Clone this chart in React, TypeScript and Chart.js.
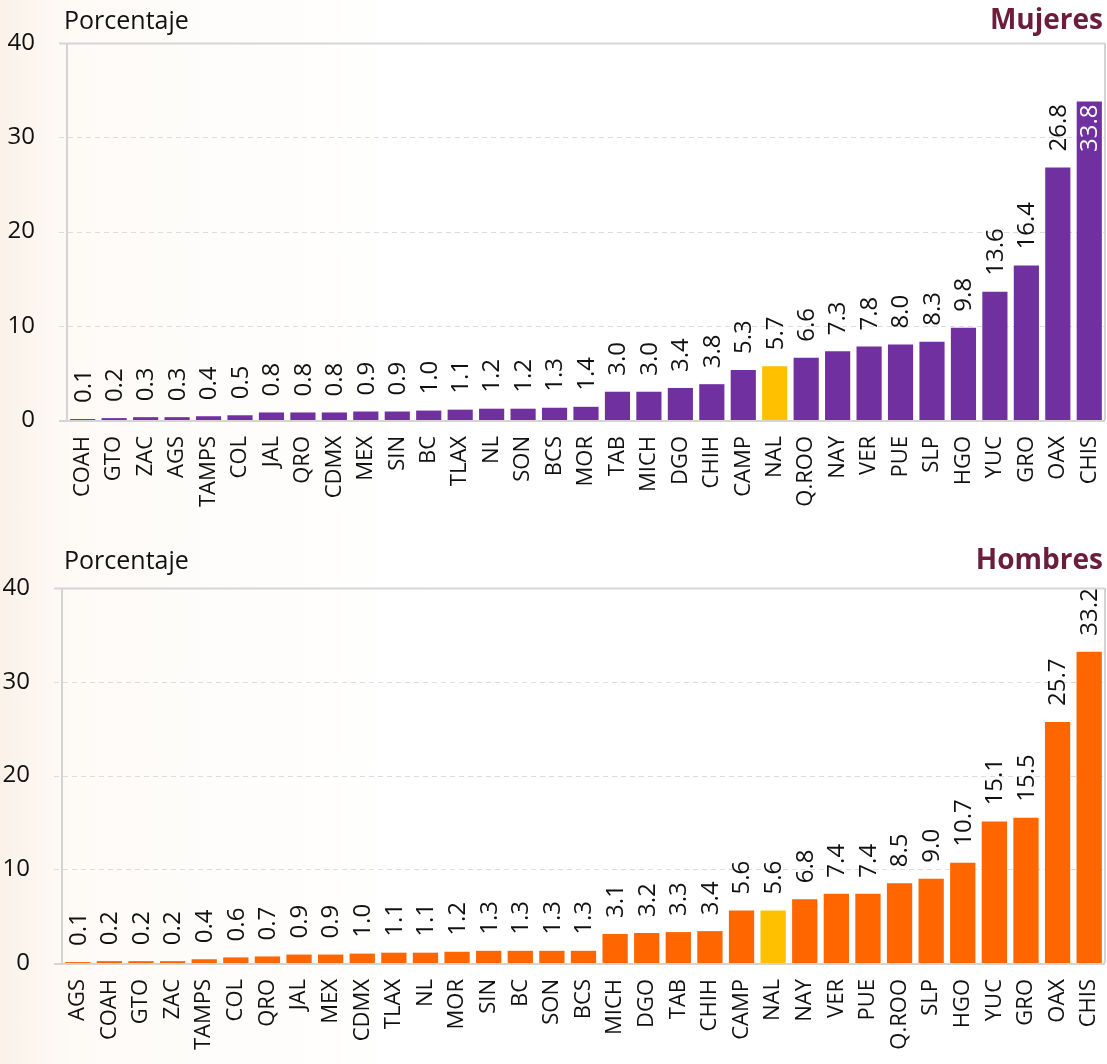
import React, { useEffect, useRef } from "react";
import { Chart, registerables } from "chart.js";

Chart.register(...registerables);

const mujeresStates = ["COAH","GTO","ZAC","AGS","TAMPS","COL","JAL","QRO","CDMX","MEX","SIN","BC","TLAX","NL","SON","BCS","MOR","TAB","MICH","DGO","CHIH","CAMP","NAL","Q.ROO","NAY","VER","PUE","SLP","HGO","YUC","GRO","OAX","CHIS"];
const mujeresValues = [0.1,0.2,0.3,0.3,0.4,0.5,0.8,0.8,0.8,0.9,0.9,1.0,1.1,1.2,1.2,1.3,1.4,3.0,3.0,3.4,3.8,5.3,5.7,6.6,7.3,7.8,8.0,8.3,9.8,13.6,16.4,26.8,33.8];

const hombresStates = ["AGS","COAH","GTO","ZAC","TAMPS","COL","QRO","JAL","MEX","CDMX","TLAX","NL","MOR","SIN","BC","SON","BCS","MICH","DGO","TAB","CHIH","CAMP","NAL","NAY","VER","PUE","Q.ROO","SLP","HGO","YUC","GRO","OAX","CHIS"];
const hombresValues = [0.1,0.2,0.2,0.2,0.4,0.6,0.7,0.9,0.9,1.0,1.1,1.1,1.2,1.3,1.3,1.3,1.3,3.1,3.2,3.3,3.4,5.6,5.6,6.8,7.4,7.4,8.5,9.0,10.7,15.1,15.5,25.7,33.2];

const yTicks = [0, 10, 20, 30, 40];
const axisTitle = "Porcentaje";
const FONT = "'Open Sans', 'Noto Sans', sans-serif";

type PanelProps = {
  labels: string[];
  values: number[];
  color: string;
  title: string;
  height: number;
  padTop: number;
  yWidth: number;
  xHeight: number;
  titleY: number;
};

const gridPlugin = {
  id: "customGrid",
  beforeDatasetsDraw(chart: any) {
    const { ctx, chartArea, scales } = chart;
    const y = scales.y;
    ctx.save();
    yTicks.forEach((t) => {
      const py = Math.round(y.getPixelForValue(t)) + 0.5;
      ctx.beginPath();
      ctx.strokeStyle = t === 40 ? "#d6d6d6" : "#dcdcdc";
      ctx.lineWidth = t === 40 ? 2 : 1.2;
      if (t === 0 || t === 40) ctx.setLineDash([]);
      else ctx.setLineDash([5, 4]);
      ctx.moveTo(chartArea.left - 8, py);
      ctx.lineTo(chartArea.right, py);
      ctx.stroke();
    });
    ctx.setLineDash([]);
    ctx.lineWidth = 2;
    ctx.strokeStyle = "#d4d4d4";
    ctx.beginPath();
    ctx.moveTo(chartArea.left, chartArea.top);
    ctx.lineTo(chartArea.left, chartArea.bottom);
    ctx.moveTo(chartArea.right, chartArea.top);
    ctx.lineTo(chartArea.right, chartArea.bottom);
    ctx.moveTo(chartArea.left - 8, chartArea.bottom + 1);
    ctx.lineTo(chartArea.right, chartArea.bottom + 1);
    ctx.stroke();
    ctx.restore();
  },
};

const labelPlugin = {
  id: "valueLabels",
  afterDatasetsDraw(chart: any) {
    const { ctx, chartArea } = chart;
    const meta = chart.getDatasetMeta(0);
    const data = chart.data.datasets[0].data as number[];
    ctx.save();
    ctx.font = `24px ${FONT}`;
    ctx.textBaseline = "middle";
    meta.data.forEach((bar: any, i: number) => {
      const txt = data[i].toFixed(1);
      const w = ctx.measureText(txt).width;
      const gap = 16;
      ctx.save();
      if (bar.y - gap - w < chartArea.top) {
        ctx.translate(bar.x, bar.y + 3);
        ctx.rotate(-Math.PI / 2);
        ctx.textAlign = "right";
        ctx.fillStyle = "#ffffff";
      } else {
        ctx.translate(bar.x, bar.y - gap);
        ctx.rotate(-Math.PI / 2);
        ctx.textAlign = "left";
        ctx.fillStyle = "#111111";
      }
      ctx.fillText(txt, 0, 1);
      ctx.restore();
    });
    ctx.restore();
  },
};

const titlePlugin = {
  id: "panelTitles",
  afterDraw(chart: any) {
    const { ctx } = chart;
    const opts = chart.options.plugins.panelTitles;
    ctx.save();
    ctx.textBaseline = "alphabetic";
    ctx.font = `25px ${FONT}`;
    ctx.fillStyle = "#111111";
    ctx.textAlign = "left";
    ctx.fillText(axisTitle, 64, opts.titleY);
    ctx.font = `bold 28px ${FONT}`;
    ctx.fillStyle = "#6b1d3a";
    ctx.textAlign = "right";
    ctx.fillText(opts.title, 1103, opts.titleY);
    ctx.restore();
  },
};

function Panel(props: PanelProps) {
  const ref = useRef<HTMLCanvasElement | null>(null);
  useEffect(() => {
    if (!ref.current) return;
    const colors = props.labels.map((l) => (l === "NAL" ? "#ffc000" : props.color));
    const chart = new Chart(ref.current, {
      type: "bar",
      data: {
        labels: props.labels,
        datasets: [
          {
            data: props.values,
            backgroundColor: colors,
            borderWidth: 0,
            barPercentage: 0.8,
            categoryPercentage: 1,
          },
        ],
      },
      options: {
        animation: false,
        responsive: false,
        maintainAspectRatio: false,
        layout: { padding: { top: props.padTop, right: 2, left: 0, bottom: 0 } },
        plugins: {
          legend: { display: false },
          tooltip: { enabled: false },
          title: { display: false },
          panelTitles: { title: props.title, titleY: props.titleY },
        } as any,
        scales: {
          x: {
            grid: { display: false },
            border: { display: false },
            ticks: {
              minRotation: 90,
              maxRotation: 90,
              autoSkip: false,
              padding: 8,
              color: "#111111",
              font: { family: FONT, size: 22 },
            },
            afterFit(scale: any) {
              scale.height = props.xHeight;
              scale.paddingLeft = 0;
              scale.paddingRight = 0;
            },
          },
          y: {
            min: 0,
            max: 40,
            grid: { display: false },
            border: { display: false },
            ticks: {
              stepSize: 10,
              padding: 24,
              color: "#111111",
              font: { family: FONT, size: 24 },
            },
            afterFit(scale: any) {
              scale.width = props.yWidth;
              scale.paddingTop = 0;
              scale.paddingBottom = 0;
            },
          },
        },
      },
      plugins: [gridPlugin, labelPlugin, titlePlugin],
    });
    return () => chart.destroy();
  }, []);
  return (
    <canvas
      ref={ref}
      width={1107}
      height={props.height}
      style={{ display: "block", width: 1107, height: props.height }}
    />
  );
}

export default function App() {
  return (
    <div
      style={{
        position: "absolute",
        left: 0,
        top: 0,
        width: 1107,
        height: 1064,
        overflow: "hidden",
        background:
          "linear-gradient(to right, rgba(245,226,205,0.45) 0px, rgba(248,236,222,0.25) 70px, rgba(252,245,238,0.15) 300px, rgba(255,255,255,0) 430px), #ffffff",
      }}
    >
      <Panel
        labels={mujeresStates}
        values={mujeresValues}
        color="#7030a0"
        title="Mujeres"
        height={540}
        padTop={43}
        yWidth={67}
        xHeight={120}
        titleY={29}
      />
      <Panel
        labels={hombresStates}
        values={hombresValues}
        color="#ff6600"
        title="Hombres"
        height={524}
        padTop={48}
        yWidth={62}
        xHeight={101}
        titleY={29}
      />
    </div>
  );
}
